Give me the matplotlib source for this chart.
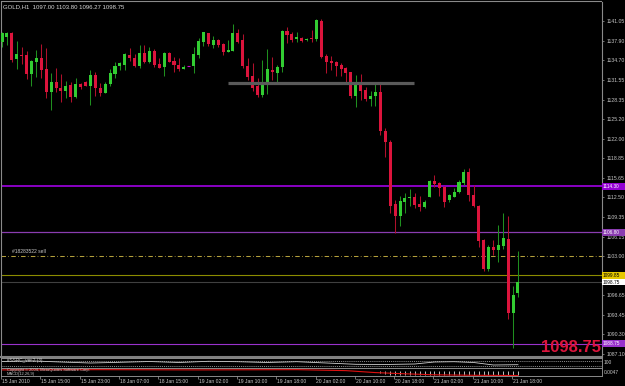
import numpy as np
import matplotlib.pyplot as plt
from matplotlib.patches import Rectangle
from matplotlib.transforms import blended_transform_factory

W, H = 625, 386

# GOLD H1 candles (oldest -> newest)
opens = [1137.69, 1138.50, 1139.15, 1134.93, 1135.66, 1135.58, 1132.50, 1134.45, 1135.10, 1133.31,
         1129.58, 1131.20, 1130.23, 1129.74, 1130.72, 1128.77, 1130.88, 1131.20, 1130.55, 1132.34,
         1130.23, 1129.42, 1130.88, 1132.50, 1133.80, 1133.96, 1135.58, 1135.10, 1133.80, 1135.91,
         1134.45, 1136.23, 1134.12, 1133.64, 1135.91, 1134.61, 1133.96, 1133.36, 1133.75, 1133.80,
         1135.58, 1137.69, 1139.15, 1137.20, 1138.01, 1137.37, 1136.12, 1136.23, 1139.15, 1138.01,
         1133.80, 1132.18, 1130.55, 1129.10, 1131.04, 1133.15, 1132.66, 1133.64, 1139.47, 1138.99,
         1138.13, 1138.39, 1137.97, 1138.39, 1138.18, 1141.14, 1135.42, 1134.61, 1134.45, 1133.96,
         1133.47, 1132.83, 1128.93, 1131.04, 1129.91, 1128.45, 1128.93, 1129.58, 1123.26, 1121.47,
         1111.42, 1109.48, 1111.80, 1112.39, 1112.60, 1111.47, 1110.89, 1112.51, 1115.20, 1114.78,
         1114.13, 1112.07, 1112.60, 1113.42, 1114.88, 1116.56, 1112.88, 1111.15, 1105.58, 1100.83,
         1104.50, 1103.96, 1104.66, 1105.75, 1093.70, 1097.00]
highs = [1139.31, 1139.31, 1139.31, 1137.85, 1136.88, 1136.23, 1134.77, 1136.39, 1137.37, 1136.72,
         1132.66, 1133.47, 1132.50, 1131.37, 1131.20, 1131.85, 1131.04, 1131.37, 1133.15, 1132.83,
         1131.04, 1131.20, 1133.31, 1134.45, 1134.45, 1135.91, 1136.72, 1135.74, 1137.20, 1137.20,
         1136.88, 1136.55, 1135.10, 1136.07, 1136.07, 1135.26, 1135.10, 1133.96, 1133.75, 1136.88,
         1138.34, 1139.36, 1139.20, 1138.66, 1138.18, 1137.53, 1138.01, 1140.61, 1139.80, 1138.99,
         1135.10, 1134.28, 1131.85, 1134.77, 1136.55, 1135.26, 1133.96, 1139.64, 1140.12, 1139.31,
         1139.31, 1138.55, 1138.26, 1139.64, 1141.42, 1141.42, 1135.74, 1135.42, 1134.61, 1134.28,
         1133.64, 1132.87, 1132.34, 1132.50, 1130.44, 1129.74, 1130.88, 1130.99, 1123.70, 1121.80,
         1112.07, 1112.72, 1113.20, 1113.85, 1113.20, 1112.72, 1112.07, 1115.31, 1116.12, 1115.04,
         1114.34, 1113.04, 1113.97, 1115.31, 1117.10, 1117.31, 1114.50, 1111.26, 1105.70, 1104.77,
         1105.58, 1108.02, 1109.91, 1109.48, 1098.12, 1103.80]
lows = [1136.88, 1137.20, 1134.45, 1133.31, 1134.12, 1131.69, 1130.55, 1132.01, 1131.85, 1128.61,
        1126.66, 1129.58, 1127.96, 1128.61, 1127.96, 1128.61, 1130.07, 1130.55, 1127.47, 1128.93,
        1128.93, 1129.42, 1130.55, 1131.85, 1133.15, 1133.15, 1134.61, 1133.64, 1133.47, 1134.30,
        1134.28, 1133.64, 1133.40, 1132.18, 1134.40, 1132.83, 1132.99, 1133.31, 1133.75, 1132.66,
        1135.10, 1137.09, 1137.09, 1136.72, 1136.93, 1135.58, 1136.07, 1136.20, 1137.53, 1133.47,
        1131.53, 1129.74, 1128.77, 1128.77, 1129.26, 1131.53, 1131.04, 1132.83, 1137.53, 1137.74,
        1137.74, 1137.74, 1137.88, 1137.64, 1137.85, 1135.14, 1132.66, 1133.15, 1132.18, 1132.18,
        1131.20, 1128.66, 1127.15, 1128.29, 1128.17, 1127.36, 1127.36, 1122.61, 1119.00, 1109.96,
        1106.72, 1107.85, 1109.96, 1111.10, 1110.77, 1110.34, 1110.72, 1112.48, 1114.13, 1112.72,
        1110.98, 1111.80, 1112.51, 1113.25, 1114.50, 1111.96, 1110.98, 1104.50, 1100.61, 1100.61,
        1103.15, 1102.07, 1104.12, 1092.77, 1088.07, 1096.27]
closes = [1139.15, 1139.15, 1134.77, 1135.74, 1135.50, 1132.50, 1134.61, 1135.10, 1133.15, 1129.58,
          1131.20, 1130.23, 1129.74, 1130.55, 1128.77, 1130.88, 1130.39, 1130.55, 1132.34, 1130.23,
          1129.42, 1130.88, 1132.66, 1133.80, 1134.28, 1135.74, 1135.10, 1133.80, 1135.91, 1134.45,
          1136.23, 1133.96, 1133.47, 1135.91, 1134.45, 1133.96, 1133.31, 1133.68, 1133.75, 1135.74,
          1137.85, 1139.31, 1137.37, 1138.01, 1137.20, 1136.07, 1136.39, 1139.15, 1137.69, 1133.80,
          1132.01, 1130.23, 1129.10, 1131.20, 1133.31, 1132.83, 1133.64, 1139.47, 1138.82, 1138.01,
          1138.45, 1137.90, 1138.18, 1138.18, 1141.26, 1135.31, 1134.45, 1134.28, 1133.80, 1133.31,
          1132.66, 1128.93, 1131.16, 1129.74, 1128.50, 1128.98, 1129.58, 1123.31, 1121.43, 1111.15,
          1109.48, 1111.91, 1112.44, 1112.60, 1111.26, 1110.89, 1111.80, 1115.20, 1114.66, 1113.97,
          1111.70, 1112.88, 1113.42, 1115.04, 1116.56, 1112.88, 1111.10, 1105.42, 1100.83, 1104.50,
          1103.96, 1104.77, 1105.86, 1093.70, 1096.67, 1098.75]

price_ticks = [1141.05, 1137.90, 1134.70, 1131.55, 1128.35, 1125.20, 1122.00, 1118.85, 1115.65,
               1112.50, 1109.35, 1106.15, 1103.00, 1099.80, 1096.65, 1093.45, 1090.30, 1087.10]
hidden_ticks = [1099.80]  # sits under the order box
time_pos = [0, 8, 16, 24, 32, 40, 48, 56, 64, 72, 80, 88, 96, 104]
time_labels = ["15 Jan 2010", "15 Jan 15:00", "15 Jan 23:00", "18 Jan 07:00", "18 Jan 15:00",
               "19 Jan 02:00", "19 Jan 10:00", "19 Jan 18:00", "20 Jan 02:00", "20 Jan 10:00",
               "20 Jan 18:00", "21 Jan 02:00", "21 Jan 10:00", "21 Jan 18:00"]

# horizontal levels
level_hi = 1114.30
level_mid = 1106.80
level_lo = 1088.75
order_price = 1103.00
order_tp = 1099.85
bid = 1098.75
zone_price, zone_from, zone_to = 1131.09, 46, 83.8

# indicator windows
osc_x = [0, 6, 12, 18, 24, 30, 36, 42, 48, 54, 60, 66, 72, 78, 84, 88, 92, 96, 100, 105]
osc_y = [60, 66, 55, 45, 52, 60, 50, 62, 58, 50, 58, 45, 32, 30, 35, 55, 58, 50, 25, 28]
osc_levels = [65, 15]
sig_x = [0, 20, 40, 60, 70, 76, 82, 88, 96, 105]
sig_y = [0.25, 0.30, 0.25, 0.30, 0.10, -0.30, -0.55, -0.75, -0.85, -0.90]
hist_start = 77
hist_y = [-0.45, -0.6, -0.7, -0.8, -0.8, -0.8, -0.8, -0.8, -0.8, -0.8, -0.8, -0.8, -0.8, -0.8,
          -0.8, -0.8, -0.8, -0.8, -0.8, -0.8, -0.8, -0.8, -0.8, -0.8, -0.8, -0.8, -0.8, -0.8, -0.8]

BULL, BEAR = '#32CD32', '#DC143C'
WICK_UP, WICK_DN = '#1f8f1f', '#b0102c'
TXT = '#c8c8c8'
FONT = 'Liberation Sans'

fig = plt.figure(figsize=(W / 100, H / 100), dpi=100, facecolor='black')

def px_axes(x0, y0, x1, y1):
    return fig.add_axes([x0 / W, 1 - y1 / H, (x1 - x0) / W, (y1 - y0) / H])

ax = px_axes(1.5, 1.5, 601.5, 356.5)
ax.set_facecolor('black')
ax.set_xlim(-0.1, 122.0)
ax.set_ylim(1086.69, 1144.26)

o = np.array(opens)
h = np.array(highs)
l = np.array(lows)
c = np.array(closes)
idx = np.arange(len(o))
up, dn, dj = c > o, c < o, c == o

ax.vlines(idx[up], l[up], h[up], color=WICK_UP, lw=0.75, zorder=2)
ax.vlines(idx[dn], l[dn], h[dn], color=WICK_DN, lw=0.75, zorder=2)
ax.bar(idx[up], (c - o)[up], bottom=o[up], width=0.62, color=BULL, linewidth=0, zorder=3)
ax.bar(idx[dn], (c - o)[dn], bottom=o[dn], width=0.62, color=BEAR, linewidth=0, zorder=3)
ax.hlines(o[dj], idx[dj] - 0.35, idx[dj] + 0.35, color='#cc00cc', lw=0.8, zorder=3)

# lines
ax.hlines(zone_price, zone_from, zone_to, color='#5a5a5a', lw=2.3, zorder=4)
ax.axhline(level_hi, color='#9400D3', lw=1.3, zorder=1)
ax.axhline(level_mid, color='#8a3cb0', lw=0.9, zorder=1)
ax.axhline(level_lo, color='#9932CC', lw=0.8, zorder=1)
ax.axhline(order_price, color='#b4a03c', lw=0.75, dashes=(4.3, 2.2, 0.7, 2.2), zorder=1)
ax.axhline(order_tp, color='#8c8c00', lw=0.8, zorder=1)
ax.axhline(bid, color='#404040', lw=0.8, zorder=1)

ax.text(2, order_price + 0.25, '#18283522 sell', color=TXT, fontsize=3.6, family=FONT,
        va='bottom', ha='left')

# axis styling
for s in ['left', 'top', 'right']:
    ax.spines[s].set_color('#8a8a8a')
    ax.spines[s].set_linewidth(0.8)
ax.spines['bottom'].set_color('#808080')
ax.spines['bottom'].set_linewidth(1.5)
ax.set_xticks([])
ax.yaxis.tick_right()
ax.set_yticks(price_ticks)
ax.set_yticklabels(['' if p in hidden_ticks else f'{p:.2f}' for p in price_ticks])
ax.tick_params(axis='y', length=1.6, width=0.5, color='#a0a0a0', pad=1.8,
               labelsize=3.7, labelcolor=TXT)
for t in ax.get_yticklabels():
    t.set_family(FONT)

# price boxes on the right scale
tr = blended_transform_factory(ax.transAxes, ax.transData)
boxes = [(level_hi, '#9400D3', 'white'), (level_mid, '#8a3cb0', 'white'),
         (order_tp, '#e6c800', 'black'), (bid, 'white', 'black'), (level_lo, '#9932CC', 'white')]
for p, fc, tc in boxes:
    ax.add_patch(Rectangle((1.0, p - 0.54), 24 / 600, 1.08, transform=tr, facecolor=fc,
                           edgecolor='none', clip_on=False, zorder=6))
    ax.text(1.0 + 1.5 / 600, p, f'{p:.2f}', transform=tr, color=tc, fontsize=3.4, family=FONT,
            va='center', ha='left', clip_on=False, zorder=7)

fig.text(3 / W, 1 - 7 / H, 'GOLD,H1  1097.00 1103.80 1096.27 1098.75', color='#d8d8d8',
         fontsize=4.3, family=FONT, va='center', ha='left')
fig.text(600.5 / W, 1 - 352.5 / H, f'{bid:.2f}', color=BEAR, fontsize=12, family=FONT,
         weight='bold', ha='right', va='baseline')

# indicator window 1
ax1 = px_axes(1.5, 357.5, 601.5, 367.5)
ax1.set_facecolor('black')
ax1.set_xlim(-0.1, 122.0)
ax1.set_ylim(0, 100)
ax1.plot(osc_x, osc_y, color='#d0d0d0', lw=0.6)
for lv in osc_levels:
    ax1.axhline(lv, color='#c0c0c0', lw=0.5, ls=(0, (1.5, 1.5)))
ax1.text(1, 92, '#SSRC_ver.2 (3)', color=TXT, fontsize=3.3, family=FONT, va='top')
ax1.set_xticks([])
ax1.set_yticks([])
for s in ax1.spines.values():
    s.set_color('#8a8a8a')
    s.set_linewidth(0.7)
ax1.text(1.004, 0.5, '100', transform=ax1.transAxes, color=TXT, fontsize=3.5, family=FONT,
         va='center', clip_on=False)

# indicator window 2
ax2 = px_axes(1.5, 368.0, 601.5, 376.0)
ax2.set_facecolor('black')
ax2.set_xlim(-0.1, 122.0)
ax2.set_ylim(-1.0, 0.64)
hx = np.arange(hist_start, hist_start + len(hist_y))
ax2.vlines(hx, hist_y, 0, color='#e0e0e0', lw=0.6)
ax2.plot(sig_x, sig_y, color='#e01010', lw=0.8)
ax2.text(1, 0.62, 'Copyright \u00a9 2004, MetaQuotes Software Corp.', color=TXT, fontsize=2.9,
         family=FONT, va='top')
ax2.text(1, -0.98, 'MACD(12,26,9)', color=TXT, fontsize=2.9, family=FONT, va='bottom')
ax2.set_xticks([])
ax2.set_yticks([])
for s in ax2.spines.values():
    s.set_color('#8a8a8a')
    s.set_linewidth(0.7)
ax2.text(1.004, 0.5, '0.0047', transform=ax2.transAxes, color=TXT, fontsize=3.5, family=FONT,
         va='center', clip_on=False)

# time scale
axt = px_axes(1.5, 376.0, 601.5, 386.0)
axt.set_xlim(-0.1, 122.0)
axt.set_ylim(0, 1)
axt.axis('off')
for pos, lab in zip(time_pos, time_labels):
    axt.vlines(pos - 0.2, 0.75, 1.0, color='#a0a0a0', lw=0.5)
    axt.text(pos, 0.42, lab, color=TXT, fontsize=3.6, family=FONT, va='center', ha='left')

fig.savefig('out.png', dpi=100, facecolor='black')
